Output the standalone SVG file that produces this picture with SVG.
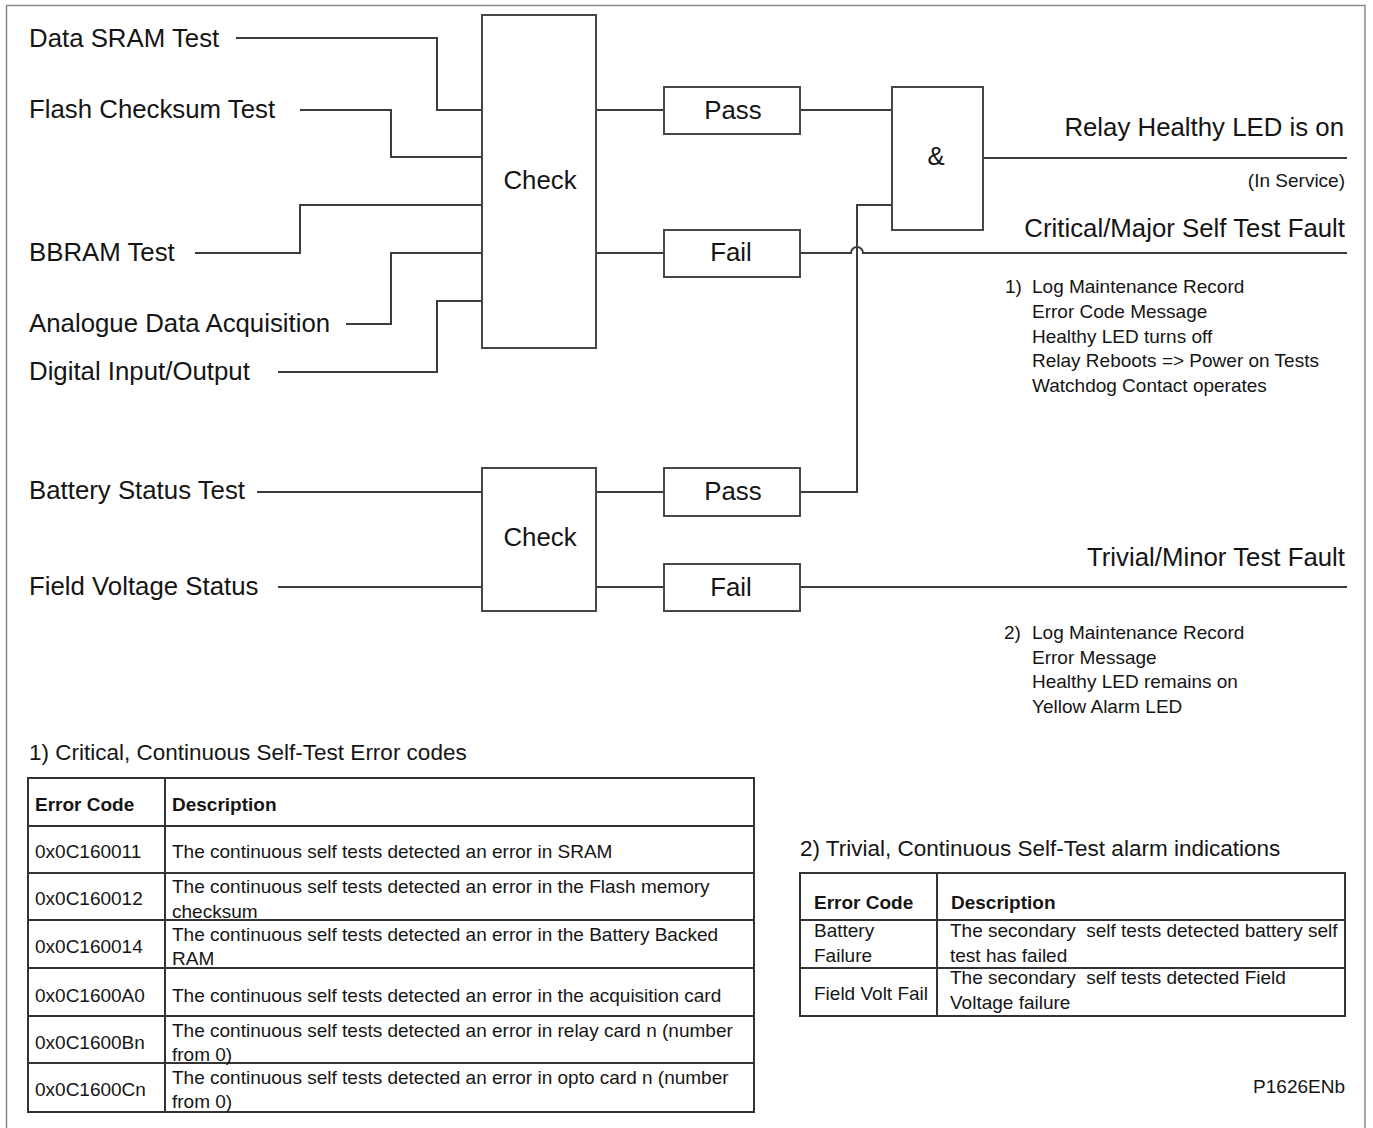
<svg xmlns="http://www.w3.org/2000/svg" width="1373" height="1128" viewBox="0 0 1373 1128">
<style>
text{font-family:"Liberation Sans",Arial,sans-serif;fill:#151515}
.lbl{font-size:25.8px}
.sm{font-size:19px}
.hd{font-size:22.5px}
.b{font-weight:bold}
.pre{white-space:pre}
.box{fill:#fff;stroke:#474747;stroke-width:2}
.ln{fill:none;stroke:#3c3c3c;stroke-width:2}
.tb{fill:none;stroke:#333;stroke-width:2}
.mid{text-anchor:middle}
.end{text-anchor:end}
</style>
<rect x="0" y="0" width="1373" height="1128" fill="#fff"/>
<rect x="6.5" y="5.5" width="1358.5" height="1130" fill="none" stroke="#8a8a8a" stroke-width="1.5"/>

<g id="connectors">
<path class="ln" d="M236,38 H437 V110 H482"/>
<path class="ln" d="M300,110 H391 V157 H482"/>
<path class="ln" d="M195,253 H300 V205 H482"/>
<path class="ln" d="M346,324 H391 V253 H482"/>
<path class="ln" d="M278,372 H437 V301 H482"/>
<path class="ln" d="M596,110 H664"/>
<path class="ln" d="M596,253 H664"/>
<path class="ln" d="M800,110 H892"/>
<path class="ln" d="M983,158 H1347"/>
<path class="ln" d="M800,253 H851 A6,6 0 0 1 863,253 H1347"/>
<path class="ln" d="M800,492 H857 V205 H892"/>
<path class="ln" d="M257,492 H482"/>
<path class="ln" d="M278,587 H482"/>
<path class="ln" d="M596,492 H664"/>
<path class="ln" d="M596,587 H664"/>
<path class="ln" d="M800,587 H1347"/>
</g>

<g id="in-sram"><text class="lbl" x="29" y="47">Data SRAM Test</text></g>
<g id="in-flash"><text class="lbl" x="29" y="118">Flash Checksum Test</text></g>
<g id="in-bbram"><text class="lbl" x="29" y="261">BBRAM Test</text></g>
<g id="in-analogue"><text class="lbl" x="29" y="332">Analogue Data Acquisition</text></g>
<g id="in-digital"><text class="lbl" x="29" y="380">Digital Input/Output</text></g>
<g id="in-battery"><text class="lbl" x="29" y="499">Battery Status Test</text></g>
<g id="in-field"><text class="lbl" x="29" y="595">Field Voltage Status</text></g>

<g id="check1"><rect class="box" x="482" y="15" width="114" height="333"/><text class="lbl mid" x="540" y="189">Check</text></g>
<g id="pass1"><rect class="box" x="664" y="87" width="136" height="47"/><text class="lbl mid" x="733" y="119">Pass</text></g>
<g id="fail1"><rect class="box" x="664" y="230" width="136" height="47"/><text class="lbl mid" x="731" y="261">Fail</text></g>
<g id="and"><rect class="box" x="892" y="87" width="91" height="143"/><text class="lbl mid" x="936" y="165">&amp;</text></g>
<g id="check2"><rect class="box" x="482" y="468" width="114" height="143"/><text class="lbl mid" x="540" y="546">Check</text></g>
<g id="pass2"><rect class="box" x="664" y="468" width="136" height="48"/><text class="lbl mid" x="733" y="500">Pass</text></g>
<g id="fail2"><rect class="box" x="664" y="564" width="136" height="47"/><text class="lbl mid" x="731" y="596">Fail</text></g>

<g id="out-healthy">
<text class="lbl end" x="1344" y="136">Relay Healthy LED is on</text>
<text class="sm end" x="1345" y="187">(In Service)</text>
</g>
<g id="out-critical">
<text class="lbl end" x="1345" y="237">Critical/Major Self Test Fault</text>
<text class="sm" x="1005" y="293">1)</text>
<text class="sm" x="1032" y="293">Log Maintenance Record</text>
<text class="sm" x="1032" y="318">Error Code Message</text>
<text class="sm" x="1032" y="343">Healthy LED turns off</text>
<text class="sm" x="1032" y="367">Relay Reboots =&gt; Power on Tests</text>
<text class="sm" x="1032" y="392">Watchdog Contact operates</text>
</g>
<g id="out-trivial">
<text class="lbl end" x="1345" y="566">Trivial/Minor Test Fault</text>
<text class="sm" x="1004" y="639">2)</text>
<text class="sm" x="1032" y="639">Log Maintenance Record</text>
<text class="sm" x="1032" y="664">Error Message</text>
<text class="sm" x="1032" y="688">Healthy LED remains on</text>
<text class="sm" x="1032" y="713">Yellow Alarm LED</text>
</g>

<g id="table1">
<text class="hd" x="29" y="760">1) Critical, Continuous Self-Test Error codes</text>
<rect class="tb" x="28" y="778" width="726" height="334"/>
<path class="tb" d="M165,778 V1112 M28,826 H754 M28,873 H754 M28,920 H754 M28,968 H754 M28,1016 H754 M28,1063 H754"/>
<text class="sm b" x="35" y="811">Error Code</text>
<text class="sm b" x="172" y="811">Description</text>
<text class="sm" x="35" y="858">0x0C160011</text>
<text class="sm" x="172" y="858">The continuous self tests detected an error in SRAM</text>
<text class="sm" x="35" y="905">0x0C160012</text>
<text class="sm" x="172" y="893">The continuous self tests detected an error in the Flash memory</text>
<text class="sm" x="172" y="918">checksum</text>
<text class="sm" x="35" y="953">0x0C160014</text>
<text class="sm" x="172" y="941">The continuous self tests detected an error in the Battery Backed</text>
<text class="sm" x="172" y="965">RAM</text>
<text class="sm" x="35" y="1002">0x0C1600A0</text>
<text class="sm" x="172" y="1002">The continuous self tests detected an error in the acquisition card</text>
<text class="sm" x="35" y="1049">0x0C1600Bn</text>
<text class="sm" x="172" y="1037">The continuous self tests detected an error in relay card n (number</text>
<text class="sm" x="172" y="1061">from 0)</text>
<text class="sm" x="35" y="1096">0x0C1600Cn</text>
<text class="sm" x="172" y="1084">The continuous self tests detected an error in opto card n (number</text>
<text class="sm" x="172" y="1108">from 0)</text>
</g>

<g id="table2">
<text class="hd" x="800" y="856">2) Trivial, Continuous Self-Test alarm indications</text>
<rect class="tb" x="800" y="873" width="545" height="143"/>
<path class="tb" d="M937,873 V1016 M800,920 H1345 M800,968 H1345"/>
<text class="sm b" x="814" y="909">Error Code</text>
<text class="sm b" x="951" y="909">Description</text>
<text class="sm" x="814" y="937">Battery</text>
<text class="sm" x="814" y="962">Failure</text>
<text class="sm pre" x="950" y="937">The secondary  self tests detected battery self</text>
<text class="sm" x="950" y="962">test has failed</text>
<text class="sm" x="814" y="1000">Field Volt Fail</text>
<text class="sm pre" x="950" y="984">The secondary  self tests detected Field</text>
<text class="sm" x="950" y="1009">Voltage failure</text>
</g>

<g id="ref"><text class="sm end" x="1345" y="1093">P1626ENb</text></g>
</svg>
